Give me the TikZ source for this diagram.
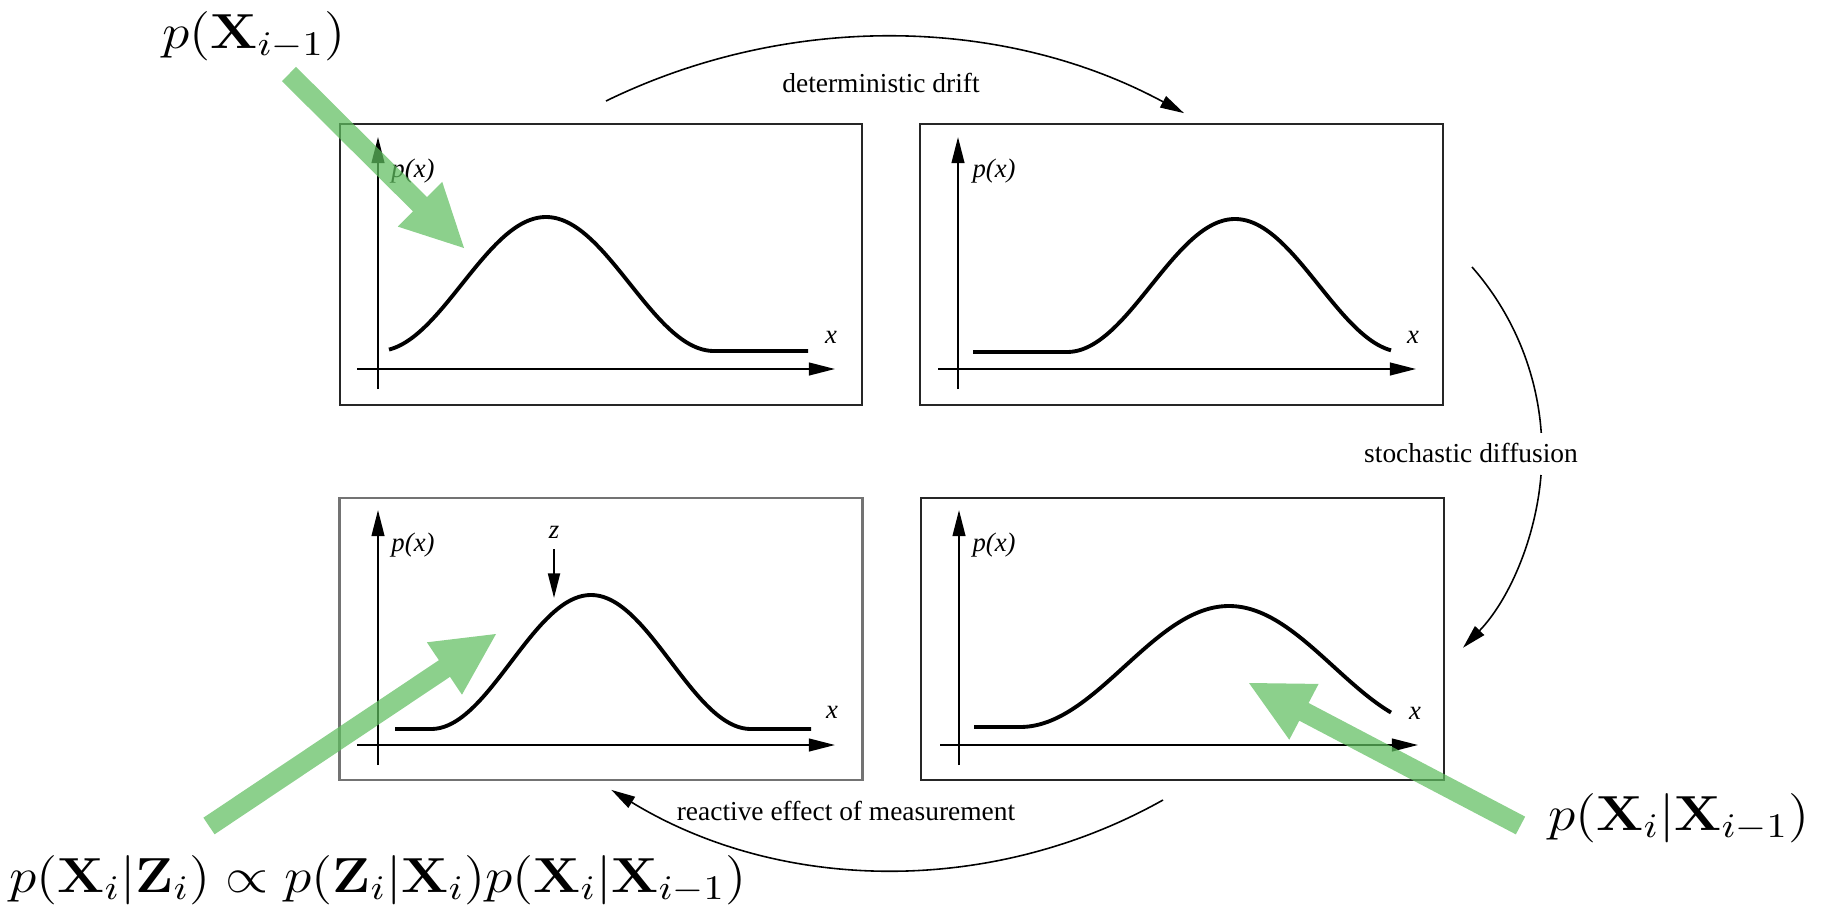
\RequirePackage{fix-cm}
\documentclass[tikz,border=0pt]{standalone}
\usepackage[no-math]{fontspec}
\usepackage{graphicx}
\newfontfamily\tnr{Liberation Serif}
\usetikzlibrary{arrows.meta,calc}
\newcommand{\wideeq}[1]{\scalebox{1.125}[1]{$#1$}}
\begin{document}
\begin{tikzpicture}[x=0.01cm,y=0.01cm,
  frame/.style={draw=black!85, line width=0.6pt, minimum width=5.22cm, minimum height=2.81cm, inner sep=0pt, outer sep=0pt},
  axis/.style={line width=0.6pt, -{Triangle[length=7.4pt,width=3.6pt]}},
  bell/.style={line width=1.1pt},
  flow/.style={line width=0.45pt, -{Triangle[length=6.8pt,width=3.6pt]}},
  lab/.style={font=\tnr\fontsize{7.8}{9}\selectfont, inner sep=0pt},
  var/.style={font=\tnr\itshape\fontsize{7.6}{9}\selectfont, inner sep=0pt},
  big/.style={font=\fontsize{14}{17}\selectfont, inner sep=0pt},
  gflow/.style={fill={rgb,255:red,95;green,190;blue,95}, fill opacity=0.72}
]
\useasboundingbox (0,0) rectangle (1821,-906);

% frames
\node[frame] (b1) at (601,-264.5) {};
\node[frame] (b2) at (1181.5,-264.5) {};
\node[frame, draw=black!55, line width=0.8pt, minimum height=2.82cm] (b3) at (601,-639) {};
\node[frame, minimum width=5.23cm, minimum height=2.82cm] (b4) at (1182.5,-639) {};

% axes
\draw[axis] (378,-389) -- (378,-137);
\draw[axis] (357,-369) -- (835,-369);
\draw[axis] (958,-389) -- (958,-137);
\draw[axis] (938,-369) -- (1416,-369);
\draw[axis] (378,-765) -- (378,-510);
\draw[axis] (357,-745) -- (835,-745);
\draw[axis] (959,-765) -- (959,-510);
\draw[axis] (940,-745) -- (1418,-745);

% curves (raised cosine bells with flat tails)
\draw[bell] plot[domain=389:714, samples=120, smooth] (\x, {-351+134*(1+cos(180*((\x-546)/168)))/2}) -- (808,-351);
\draw[bell] (973,-352) -- plot[domain=1067:1391, samples=120, smooth] (\x, {-352+133*(1+cos(180*((\x-1235)/168)))/2});
\draw[bell] (395,-729) -- plot[domain=431:751, samples=120, smooth] (\x, {-729+134*(1+cos(180*((\x-591)/160)))/2}) -- (811,-729);
\draw[bell] (974,-727) -- plot[domain=1020:1391, samples=120, smooth] (\x, {-727+121*(1+cos(180*((\x-1229)/209)))/2});

% axis labels
\node[var] (px1) at (413,-171) {p(x)};
\node[var] (px2) at (994,-171) {p(x)};
\node[var] (px3) at (413,-545) {p(x)};
\node[var] (px4) at (994,-545) {p(x)};
\node[var] (x1) at (831,-337) {x};
\node[var] (x2) at (1413,-337) {x};
\node[var] (x3) at (832,-712) {x};
\node[var] (x4) at (1415,-713) {x};
\node[var] (zl) at (554,-532) {z};
\coordinate (zt) at (554,-598);
\draw[line width=0.6pt, -{Triangle[length=7pt,width=3.4pt]}] (554,-549) -- (zt);

% flow arcs
\coordinate (dA) at (606,-101);
\draw[flow] (dA) arc[start angle=116.0, end angle=61.6, radius=632.4];
\coordinate (sA) at (1472,-267);
\draw[line width=0.45pt] (sA) arc[start angle=41.3, end angle=4.0, radius=281.1];
\coordinate (sB) at (1541,-475);
\draw[flow] (sB) arc[start angle=-4.6, end angle=-44.0, radius=281.1];
\coordinate (rA) at (1163,-800);
\draw[flow] (rA) arc[start angle=-60.7, end angle=-121.4, radius=546];

\node[lab, anchor=base] (tdrift) at (881,-92) {deterministic drift};
\node[lab, anchor=base] (tdiff) at (1471,-462) {stochastic diffusion};
\node[lab, anchor=base] (treact) at (846,-820) {reactive effect of measurement};

% big formulas
\node[big, anchor=base] (l1) at (254,-48) {\wideeq{p(\mathbf{X}_{i-1})}};
\node[big, anchor=base] (l2) at (378,-892) {\wideeq{p(\mathbf{X}_i|\mathbf{Z}_i) \propto p(\mathbf{Z}_i|\mathbf{X}_i)p(\mathbf{X}_i|\mathbf{X}_{i-1})}};
\node[big, anchor=base] (l3) at (1679,-830) {\wideeq{p(\mathbf{X}_i|\mathbf{X}_{i-1})}};

% green arrows
\coordinate (gt1) at (289,-74);      \coordinate (gh1) at (464,-248);
\coordinate (gt2) at (209,-826);     \coordinate (gh2) at (496,-634);
\coordinate (gt3) at (1520.5,-825.5); \coordinate (gh3) at (1249,-683);
\foreach \n in {1,2,3}{
  \coordinate (gb\n) at ($(gh\n)!0.62cm!(gt\n)$);
  \fill[gflow] ($(gt\n)!0.1cm!90:(gh\n)$) -- ($(gb\n)!0.1cm!-90:(gt\n)$) -- ($(gb\n)!0.315cm!-90:(gt\n)$) -- (gh\n)
     -- ($(gb\n)!0.315cm!90:(gt\n)$) -- ($(gb\n)!0.1cm!90:(gt\n)$) -- ($(gt\n)!0.1cm!-90:(gh\n)$) -- cycle;
}
\end{tikzpicture}
\end{document}
